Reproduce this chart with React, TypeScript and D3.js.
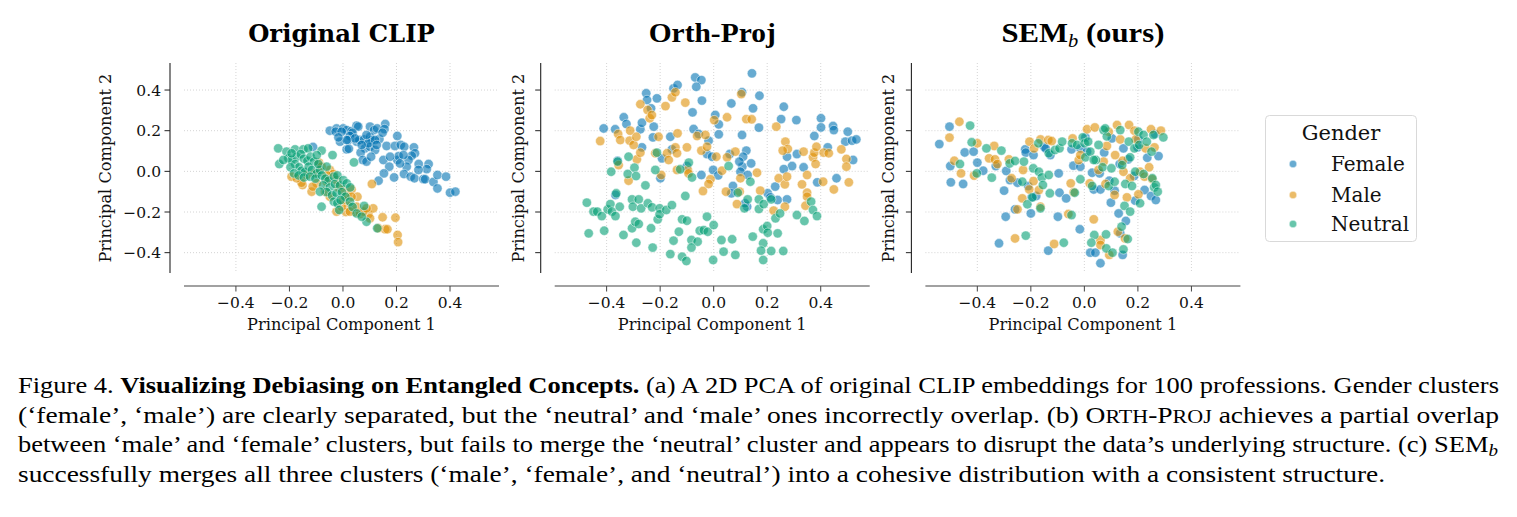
import React from 'react';
import * as d3 from 'd3';

type P = [number, number];

// ---------- Panel 1: Original CLIP ----------
const origFemale: P[] = [
  [-0.049,0.200],[-0.024,0.211],[-0.027,0.195],[0.001,0.211],[0.014,0.203],[-0.005,0.195],[0.032,0.198],[0.051,0.225],[0.057,0.220],[0.036,0.190],
  [0.026,0.174],[-0.011,0.146],[0.020,0.154],[0.051,0.146],[0.014,0.108],[0.022,0.111],[0.061,0.154],[0.079,0.157],[0.101,0.220],[0.116,0.203],
  [0.128,0.211],[0.101,0.170],[0.107,0.154],[0.136,0.159],[0.158,0.233],[0.155,0.208],[0.148,0.190],[0.082,0.113],[0.101,0.121],[0.120,0.105],
  [0.095,0.138],[0.066,0.092],[0.074,0.056],[0.088,0.048],[0.105,0.072],[0.163,0.125],[0.203,0.174],[0.194,0.125],[0.216,0.130],[0.229,0.121],
  [0.265,0.118],[0.269,0.089],[0.257,0.077],[0.245,0.056],[0.283,0.036],[0.320,0.036],[0.313,0.011],[0.151,0.056],[0.173,0.023],[0.203,0.056],
  [0.208,0.075],[0.238,0.023],[0.228,-0.013],[0.253,-0.026],[0.267,-0.034],[0.300,-0.038],[0.307,-0.039],[0.338,-0.052],[0.353,-0.018],[0.385,-0.026],
  [0.353,-0.084],[0.153,-0.010],[0.133,-0.046],[0.191,-0.030],[0.400,-0.105],[0.420,-0.100],[-0.112,0.120],[0.045,0.162],[0.088,0.179],[0.120,0.154],
  [0.014,0.154],[-0.017,0.167],[0.126,0.130],[0.070,0.130],[0.226,0.080],[0.176,0.072],[0.213,0.039],[0.282,0.007]
];
const origMale: P[] = [
  [-0.192,-0.026],[-0.151,-0.067],[-0.117,-0.100],[-0.098,-0.059],[-0.090,0.043],[-0.049,0.007],[-0.036,-0.013],[-0.017,-0.079],[0.001,-0.092],[0.016,-0.116],
  [0.032,-0.089],[0.054,-0.125],[0.020,-0.169],[0.011,-0.200],[0.045,-0.200],[0.064,-0.210],[0.095,-0.210],[0.113,-0.182],[0.148,-0.226],[0.196,-0.228],
  [0.157,-0.285],[0.166,-0.285],[0.204,-0.313],[0.206,-0.348],[0.108,-0.062],[-0.024,-0.198],[-0.061,-0.051],[-0.113,-0.075],[-0.155,-0.056],[-0.136,-0.018],
  [-0.173,-0.034],[-0.080,0.023],[-0.067,-0.100],[-0.049,-0.125],[-0.005,-0.174],[0.032,-0.125],[0.051,-0.174],[0.076,-0.198],[0.101,-0.231],[0.132,-0.280],
  [-0.024,-0.043],[0.001,-0.141],[0.026,-0.198],[0.088,-0.182],[-0.105,-0.010],[-0.061,-0.018]
];
const origNeutral: P[] = [
  [-0.242,0.113],[-0.238,0.036],[-0.211,0.097],[-0.179,0.108],[-0.148,0.108],[-0.130,0.113],[-0.080,0.102],[-0.039,0.080],[-0.204,0.064],[-0.192,0.056],
  [-0.173,0.072],[-0.158,0.085],[-0.146,0.062],[-0.133,0.052],[-0.121,0.072],[-0.108,0.048],[-0.179,0.036],[-0.164,0.020],[-0.155,0.003],[-0.142,-0.003],
  [-0.128,0.023],[-0.116,0.007],[-0.098,-0.010],[-0.086,0.007],[-0.092,0.036],[-0.196,0.020],[-0.183,-0.010],[-0.166,-0.020],[-0.146,-0.030],[-0.123,-0.026],
  [-0.103,-0.036],[-0.079,-0.020],[-0.066,-0.036],[-0.054,-0.046],[-0.034,-0.026],[-0.021,-0.020],[-0.074,-0.069],[-0.049,-0.079],[-0.030,-0.062],[-0.011,-0.069],
  [0.001,-0.043],[0.014,-0.059],[0.027,-0.079],[-0.061,-0.102],[-0.041,-0.118],[-0.024,-0.108],[-0.004,-0.102],[0.009,-0.125],[-0.034,-0.149],[-0.021,-0.157],
  [-0.009,-0.141],[-0.080,-0.174],[0.026,-0.149],[0.036,-0.175],[0.051,-0.207],[0.079,-0.170],[0.088,-0.248],[0.070,-0.223],[0.128,-0.280],[0.041,0.044],
  [-0.223,0.056],[-0.192,0.089],[-0.098,0.080],[-0.061,0.023],[-0.014,-0.190],[-0.086,-0.100]
];

// ---------- Panel 2: Orth-Proj ----------
const orthFemale: P[] = [
  [-0.411,0.211],[-0.368,0.207],[-0.359,0.052],[-0.367,-0.116],[-0.336,0.266],[-0.326,0.233],[-0.274,0.207],[-0.268,0.239],[-0.252,0.384],[-0.249,0.351],
  [-0.234,0.310],[-0.224,0.220],[-0.227,0.167],[-0.212,0.359],[-0.268,0.118],[-0.162,0.170],[-0.156,0.108],[-0.193,0.064],[-0.199,-0.034],[-0.150,0.408],
  [-0.135,0.425],[-0.069,0.462],[-0.046,0.449],[-0.065,0.416],[-0.044,0.348],[-0.079,0.290],[-0.075,0.208],[-0.056,0.184],[-0.019,0.151],[-0.025,0.085],
  [-0.006,0.072],[-0.002,0.007],[0.017,-0.020],[-0.046,-0.018],[-0.100,0.026],[0.006,0.277],[0.019,0.231],[0.019,0.182],[0.066,0.334],[0.106,0.389],
  [0.143,0.482],[0.171,0.372],[0.147,0.310],[0.169,0.215],[0.106,0.179],[0.060,0.085],[0.122,0.102],[0.110,0.072],[0.107,0.023],[0.140,0.039],
  [0.100,-0.002],[0.127,-0.018],[0.072,-0.072],[0.066,-0.108],[0.125,-0.174],[0.202,-0.108],[0.230,-0.075],[0.239,-0.141],[0.274,-0.138],[0.262,0.318],
  [0.252,0.257],[0.309,0.252],[0.274,0.072],[0.311,0.085],[0.293,0.026],[0.262,0.011],[0.336,0.020],[0.376,0.174],[0.401,0.261],[0.401,0.216],
  [0.446,0.223],[0.449,0.203],[0.501,0.195],[0.492,0.146],[0.517,0.151],[0.533,0.157],[0.521,0.056],[0.426,0.118],[0.387,-0.054],[0.459,-0.034],
  [0.212,-0.128],[0.117,-0.157],[0.096,0.048]
];
const orthMale: P[] = [
  [-0.424,0.149],[-0.357,0.184],[-0.349,0.154],[-0.355,0.031],[-0.318,-0.046],[-0.312,0.200],[-0.314,0.151],[-0.299,0.130],[-0.289,0.170],[-0.287,0.059],
  [-0.274,0.092],[-0.274,0.330],[-0.247,0.302],[-0.239,0.261],[-0.231,0.277],[-0.206,0.170],[-0.218,0.089],[-0.196,-0.018],[-0.180,0.321],[-0.156,0.364],
  [-0.143,0.389],[-0.135,0.187],[-0.143,0.118],[-0.174,0.089],[-0.168,0.056],[-0.137,0.089],[-0.137,0.007],[-0.106,0.338],[-0.100,0.118],[-0.097,0.007],
  [-0.094,-0.010],[-0.062,0.174],[-0.046,0.102],[-0.031,0.179],[-0.025,0.121],[0.002,0.252],[0.010,0.072],[0.031,0.003],[-0.012,-0.039],[-0.019,-0.062],
  [-0.040,-0.097],[0.050,0.266],[0.050,0.069],[0.081,0.097],[0.097,-0.100],[0.100,-0.034],[0.046,-0.100],[0.087,-0.161],[0.103,0.380],[0.122,0.257],
  [0.142,0.256],[0.162,-0.007],[0.174,-0.095],[0.234,0.220],[0.268,0.146],[0.277,0.110],[0.258,0.102],[0.224,-0.193],[0.243,-0.034],[0.266,-0.064],
  [0.274,-0.026],[0.266,-0.174],[0.330,-0.064],[0.336,0.097],[0.349,-0.018],[0.349,-0.105],[0.349,-0.125],[0.343,-0.169],[0.371,0.069],[0.376,0.092],
  [0.384,0.121],[0.381,0.036],[0.409,-0.051],[0.411,0.092],[0.430,0.089],[0.449,-0.089],[0.477,0.108],[0.496,0.061],[0.496,0.023],[0.505,-0.054]
];
const orthNeutral: P[] = [
  [-0.474,-0.154],[-0.467,-0.305],[-0.449,-0.198],[-0.435,-0.198],[-0.418,-0.220],[-0.409,-0.292],[-0.396,-0.187],[-0.386,-0.161],[-0.380,-0.198],[-0.367,-0.220],
  [-0.351,-0.174],[-0.383,-0.002],[-0.359,0.048],[-0.364,-0.108],[-0.337,-0.313],[-0.318,0.072],[-0.321,-0.013],[-0.296,0.018],[-0.290,-0.023],[-0.305,-0.138],
  [-0.302,-0.174],[-0.280,-0.138],[-0.271,-0.182],[-0.305,-0.280],[-0.293,-0.248],[-0.280,-0.259],[-0.289,-0.351],[-0.255,-0.069],[-0.246,-0.157],[-0.230,-0.177],
  [-0.234,-0.280],[-0.228,-0.375],[-0.218,0.007],[-0.212,0.092],[-0.209,-0.236],[-0.202,-0.182],[-0.202,-0.211],[-0.177,-0.190],[-0.156,-0.166],[-0.150,-0.341],
  [-0.162,-0.407],[-0.130,-0.297],[-0.118,-0.236],[-0.118,-0.420],[-0.125,0.010],[-0.102,-0.441],[-0.100,-0.243],[-0.106,-0.121],[-0.093,0.043],[-0.081,-0.030],
  [-0.083,-0.338],[-0.060,-0.346],[-0.083,-0.375],[-0.052,-0.292],[-0.037,-0.289],[-0.022,-0.297],[-0.025,-0.223],[0.000,-0.264],[-0.002,-0.436],[0.029,-0.338],
  [0.037,-0.395],[0.069,-0.334],[0.081,-0.411],[0.056,0.026],[0.090,-0.105],[0.127,-0.138],[0.115,-0.182],[0.146,-0.321],[0.169,-0.138],[0.169,-0.185],
  [0.187,-0.161],[0.185,-0.285],[0.200,-0.269],[0.202,-0.302],[0.185,-0.354],[0.177,-0.390],[0.185,-0.436],[0.215,-0.392],[0.239,-0.305],[0.260,-0.392],
  [0.231,-0.231],[0.248,-0.207],[0.215,-0.138],[0.311,-0.215],[0.339,-0.244],[0.364,-0.149],[0.371,-0.190],[0.386,-0.220],[0.137,-0.051]
];

// ---------- Panel 3: SEM_b (ours) ----------
const semFemale: P[] = [
  [-0.542,0.134],[-0.504,0.220],[-0.501,0.026],[-0.499,-0.054],[-0.453,-0.062],[-0.447,0.093],[-0.414,0.097],[-0.400,0.043],[-0.378,0.003],[-0.331,0.026],
  [-0.319,-0.354],[-0.300,-0.095],[-0.294,-0.223],[-0.292,0.002],[-0.278,-0.043],[-0.259,-0.187],[-0.250,-0.056],[-0.221,0.108],[-0.219,0.092],[-0.210,-0.072],
  [-0.200,-0.207],[-0.197,-0.128],[-0.190,0.080],[-0.180,-0.121],[-0.151,0.121],[-0.145,0.113],[-0.135,-0.390],[-0.127,0.080],[-0.099,-0.223],[-0.096,-0.010],
  [-0.093,-0.105],[-0.068,-0.133],[-0.048,0.108],[-0.041,0.028],[-0.017,-0.285],[-0.015,0.023],[0.004,0.167],[0.022,-0.400],[0.041,-0.400],[0.060,-0.452],
  [0.074,0.092],[0.035,-0.089],[0.029,-0.007],[0.057,-0.010],[0.060,-0.089],[0.093,-0.046],[0.099,-0.154],[0.113,-0.095],[0.128,-0.207],[0.134,-0.305],
  [0.143,-0.411],[0.155,-0.244],[0.146,0.113],[0.164,0.059],[0.186,-0.023],[0.190,-0.144],[0.199,0.118],[0.202,0.157],[0.225,-0.092],[0.235,0.067],
  [0.249,-0.121],[0.267,-0.141],[0.277,0.075],[0.264,0.184],[0.103,0.162],[0.132,0.036],[-0.015,0.113],[0.010,0.097]
];
const semMale: P[] = [
  [-0.504,0.166],[-0.486,0.052],[-0.467,0.244],[-0.461,-0.010],[-0.412,-0.021],[-0.400,0.138],[-0.356,0.064],[-0.337,0.125],[-0.334,0.059],[-0.325,0.036],
  [-0.282,0.059],[-0.272,-0.034],[-0.259,-0.330],[-0.250,-0.187],[-0.232,-0.133],[-0.229,0.007],[-0.205,0.146],[-0.188,0.113],[-0.190,-0.048],[-0.206,-0.089],
  [-0.170,-0.092],[-0.164,-0.174],[-0.164,0.157],[-0.135,0.154],[-0.122,0.149],[-0.113,-0.357],[-0.060,-0.210],[-0.051,-0.059],[-0.040,-0.103],[-0.044,0.162],
  [-0.021,0.056],[-0.015,0.080],[0.010,0.207],[0.020,-0.059],[0.035,-0.236],[0.039,0.216],[0.060,-0.338],[0.060,-0.362],[0.072,0.048],[0.079,-0.062],
  [0.084,0.125],[0.093,-0.411],[0.113,-0.116],[0.115,0.080],[0.122,0.228],[0.125,-0.297],[0.134,0.157],[0.143,0.052],[0.152,-0.330],[0.159,-0.128],
  [0.167,0.228],[0.171,-0.034],[0.187,0.200],[0.192,0.157],[0.202,-0.113],[0.208,-0.002],[0.225,-0.026],[0.229,0.113],[0.242,0.020],[0.249,0.207],
  [0.254,-0.039],[0.262,0.118],[0.286,0.200],[0.146,-0.002],[0.091,0.195],[0.053,0.007]
];
const semNeutral: P[] = [
  [-0.427,0.225],[-0.421,0.143],[-0.465,0.036],[-0.402,-0.010],[-0.366,0.113],[-0.346,-0.031],[-0.310,0.102],[-0.279,0.039],[-0.259,0.051],[-0.232,-0.051],
  [-0.226,0.048],[-0.219,-0.316],[-0.213,-0.162],[-0.191,0.015],[-0.194,-0.128],[-0.170,-0.002],[-0.164,-0.182],[-0.159,-0.030],[-0.155,-0.067],[-0.133,-0.018],
  [-0.129,-0.108],[-0.172,0.138],[-0.133,0.089],[-0.110,0.105],[-0.093,0.113],[-0.083,0.146],[-0.077,-0.351],[-0.048,-0.215],[-0.036,-0.105],[-0.015,-0.039],
  [-0.046,0.138],[-0.027,0.130],[-0.006,0.167],[0.001,0.138],[0.004,0.069],[0.014,0.146],[0.022,0.097],[0.029,-0.072],[0.037,-0.313],[0.043,0.056],
  [0.026,-0.351],[0.053,0.130],[0.068,0.020],[0.072,0.203],[0.081,-0.310],[0.082,-0.379],[0.084,0.172],[0.091,-0.072],[0.101,0.015],[0.105,-0.400],
  [0.113,-0.051],[0.134,0.203],[0.139,-0.272],[0.141,0.031],[0.146,-0.384],[0.150,-0.170],[0.153,-0.062],[0.162,-0.333],[0.166,0.146],[0.171,0.069],
  [0.171,-0.198],[0.178,-0.072],[0.187,0.113],[0.190,-0.002],[0.202,0.195],[0.205,0.130],[0.208,-0.157],[0.221,-0.013],[0.221,0.179],[0.233,0.146],
  [0.251,0.097],[0.254,-0.034],[0.261,-0.079],[0.267,-0.067],[0.274,-0.100],[0.258,0.179],[0.295,0.167],[0.078,0.211],[0.035,0.056]
];

const xTicks = [-0.4, -0.2, 0.0, 0.2, 0.4];
const yTicks = [-0.4, -0.2, 0.0, 0.2, 0.4];
const genders = ['Female', 'Male', 'Neutral'];
const palette = ['#0173B2', '#DE8F05', '#029E73'];
const xLabel = 'Principal Component 1';
const yLabel = 'Principal Component 2';

const panels = [
  { key: 'orig', series: [origFemale, origMale, origNeutral] },
  { key: 'orth', series: [orthFemale, orthMale, orthNeutral] },
  { key: 'sem', series: [semFemale, semMale, semNeutral] },
];

const PLOT_W = 315;
const PLOT_H = 210;
const TOP = 63;
const LEFT0 = 184;
const DX = 370.7;
const AXFONT = '"DejaVu Serif", serif';
const TIMES = '"Liberation Serif", "Times New Roman", serif';

const xScale = d3.scaleLinear().domain([-0.594, 0.583]).range([0, PLOT_W]);
const yScale = d3.scaleLinear().domain([-0.5, 0.533]).range([PLOT_H, 0]);
const fmt = d3.format('.1f');

function Title({ i }: { i: number }) {
  if (i === 0)
    return (
      <text x={PLOT_W / 2} y={-21} textAnchor="middle" style={{ fontFamily: AXFONT }} fontWeight={700} fontSize={24.3} fill="#000">
        Original CLIP
      </text>
    );
  const common = { x: PLOT_W / 2, y: -21, textAnchor: 'middle' as const, fontWeight: 700, fontSize: 27, fill: '#000', lengthAdjust: 'spacingAndGlyphs' as const, style: { fontFamily: TIMES } };
  if (i === 1) return <text {...common} textLength={127}>Orth-Proj</text>;
  return (
    <text {...common} textLength={163}>
      SEM<tspan fontStyle="italic" fontWeight={400} fontSize={18} dy={5}>b</tspan>
      <tspan dy={-5}> (ours)</tspan>
    </text>
  );
}

function Panel({ i, series }: { i: number; series: P[][] }) {
  const tx = LEFT0 + i * DX;
  return (
    <g transform={`translate(${tx},${TOP})`}>
      {xTicks.map((t) => (
        <line key={'gx' + t} x1={xScale(t)} x2={xScale(t)} y1={0} y2={PLOT_H} stroke="#cfcfcf" strokeWidth={0.9} strokeDasharray="1,2" />
      ))}
      {yTicks.map((t) => (
        <line key={'gy' + t} x1={0} x2={PLOT_W} y1={yScale(t)} y2={yScale(t)} stroke="#cfcfcf" strokeWidth={0.9} strokeDasharray="1,2" />
      ))}
      {series.map((pts, gi) =>
        pts.map((p, k) => (
          <circle key={gi + '-' + k} cx={xScale(p[0])} cy={yScale(p[1])} r={4.7} fill={palette[gi]} fillOpacity={0.6} stroke="#fff" strokeWidth={0.6} strokeOpacity={0.8} />
        ))
      )}
      <line x1={-14} x2={-14} y1={0} y2={PLOT_H} stroke="#222" strokeWidth={1.1} />
      {yTicks.map((t) => (
        <g key={'yt' + t}>
          <line x1={-14} x2={-19.5} y1={yScale(t)} y2={yScale(t)} stroke="#222" strokeWidth={1} />
          {i === 0 && (
            <text x={-23} y={yScale(t) + 5.5} textAnchor="end" style={{ fontFamily: AXFONT }} fontSize={15.5} fill="#111">{fmt(t)}</text>
          )}
        </g>
      ))}
      <line x1={0} x2={PLOT_W} y1={PLOT_H + 13} y2={PLOT_H + 13} stroke="#444" strokeWidth={1.1} />
      {xTicks.map((t) => (
        <g key={'xt' + t}>
          <line x1={xScale(t)} x2={xScale(t)} y1={PLOT_H + 13} y2={PLOT_H + 18.5} stroke="#444" strokeWidth={1} />
          <text x={xScale(t)} y={PLOT_H + 35} textAnchor="middle" style={{ fontFamily: AXFONT }} fontSize={15.5} fill="#111">{fmt(t)}</text>
        </g>
      ))}
      <text x={PLOT_W / 2} y={PLOT_H + 57} textAnchor="middle" style={{ fontFamily: AXFONT }} fontSize={16.2} fill="#111">{xLabel}</text>
      <text transform={`translate(${i === 0 ? -73 : -31},${PLOT_H / 2}) rotate(-90)`} textAnchor="middle" style={{ fontFamily: AXFONT }} fontSize={16.2} fill="#111">{yLabel}</text>
      <Title i={i} />
    </g>
  );
}

function Legend() {
  const rowsY = [164, 195, 224];
  return (
    <g>
      <rect x={1265.5} y={115.5} width={151} height={126} rx={4} fill="#fff" fillOpacity={0.8} stroke="#d9d9d9" strokeWidth={1} />
      <text x={1341} y={140} textAnchor="middle" style={{ fontFamily: AXFONT }} fontSize={21} fill="#111">Gender</text>
      {genders.map((g, gi) => (
        <g key={g}>
          <circle cx={1293} cy={rowsY[gi]} r={3.8} fill={palette[gi]} fillOpacity={0.6} stroke="#fff" strokeWidth={0.5} />
          <text x={1331} y={rowsY[gi] + 7} style={{ fontFamily: AXFONT }} fontSize={20} fill="#111">{g}</text>
        </g>
      ))}
    </g>
  );
}

const CAP_X = 18;
const capBaselines = [393, 422.5, 452, 481.5];

function Caption() {
  const common = { x: CAP_X, fontSize: 23, fill: '#000', lengthAdjust: 'spacingAndGlyphs' as const, style: { fontFamily: TIMES } };
  return (
    <g>
      <text {...common} y={capBaselines[0]} textLength={1481}>
        Figure 4. <tspan fontWeight={700}>Visualizing Debiasing on Entangled Concepts.</tspan> (a) A 2D PCA of original CLIP embeddings for 100 professions. Gender clusters
      </text>
      <text {...common} y={capBaselines[1]} textLength={1481}>
        (‘female’, ‘male’) are clearly separated, but the ‘neutral’ and ‘male’ ones incorrectly overlap. (b) O<tspan fontSize={18.4}>RTH</tspan>-P<tspan fontSize={18.4}>ROJ</tspan> achieves a partial overlap
      </text>
      <text {...common} y={capBaselines[2]} textLength={1480}>
        between ‘male’ and ‘female’ clusters, but fails to merge the ‘neutral’ cluster and appears to disrupt the data’s underlying structure. (c) SEM<tspan fontStyle="italic" fontSize={16.5} dy={4}>b</tspan>
      </text>
      <text {...common} y={capBaselines[3]} textLength={1367}>
        successfully merges all three clusters (‘male’, ‘female’, and ‘neutral’) into a cohesive distribution with a consistent structure.
      </text>
    </g>
  );
}

export default function App() {
  return (
    <svg width={1517} height={517} style={{ position: 'absolute', left: 0, top: 0, background: '#fff' }}>
      <rect x={0} y={0} width={1517} height={517} fill="#fff" />
      {panels.map((p, i) => (
        <Panel key={p.key} i={i} series={p.series} />
      ))}
      <Legend />
      <Caption />
    </svg>
  );
}
